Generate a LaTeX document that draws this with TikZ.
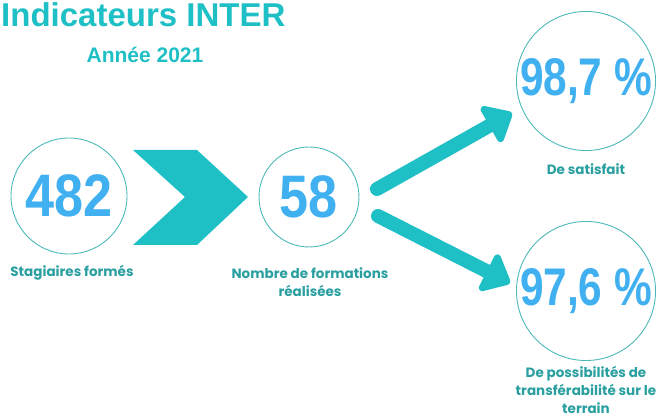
\documentclass[tikz,border=0pt]{standalone}
\usepackage{fontspec}
\setmainfont{Liberation Sans}
\newfontfamily\labelfont{Poppins}
\usetikzlibrary{arrows.meta}
\definecolor{turq}{HTML}{1EBFC5}
\definecolor{ringcol}{HTML}{4DB8B8}
\definecolor{numblue}{HTML}{40B0F0}
\definecolor{labteal}{HTML}{2A9FA0}
\tikzset{
  ring/.style={circle,draw=ringcol,line width=0.9pt,inner sep=0pt},
  bignum/.style={text=numblue,font=\bfseries\fontsize{60}{60}\selectfont},
  pctnum/.style={text=numblue,font=\bfseries\fontsize{53}{53}\selectfont},
  caption/.style={text=labteal,font=\labelfont\bfseries\fontsize{13.5}{18}\selectfont,align=center,inner sep=0pt},
  fatarrow/.style={turq,line width=14pt,line cap=round,-{Triangle[round,length=28pt,width=47pt]}}
}

\begin{document}
\begin{tikzpicture}[x=1pt,y=-1pt]
\useasboundingbox (0,0) rectangle (659,419);
\node[anchor=base west,inner sep=0pt,text=turq,font=\bfseries\fontsize{33}{33}\selectfont] (title) at (1,27) {Indicateurs INTER};
\node[anchor=base,inner sep=0pt,text=turq,font=\bfseries\fontsize{21}{21}\selectfont] (year) at (145,63) {Année 2021};
\node[ring,minimum size=116pt,bignum] (c482) at (69,196) {\scalebox{0.87}[1]{482}};
\node[ring,minimum size=100pt,bignum] (c58) at (309,197) {\scalebox{0.87}[1]{58}};
\node[ring,minimum size=134pt,pctnum] (c987) at (586,81) {\scalebox{0.8}[1]{98,7 \%}};
\node[ring,minimum size=134pt,pctnum] (c976) at (586,291) {\scalebox{0.8}[1]{97,6 \%}};
\fill[turq] (133,150) -- (197,150) -- (248,197) -- (197,245) -- (133,245) -- (185,197) -- cycle;
\node[caption,anchor=base] (l482) at (72,277) {Stagiaires formés};
\node[caption,anchor=base] (l58) at (310,297) {Nombre de formations\\réalisées};
\node[caption,anchor=base] (l987) at (586,175) {De satisfait};
\node[caption,anchor=base] (l976) at (586,414) {De possibilités de\\transférabilité sur le\\terrain};
\coordinate (up0) at (377,189);
\coordinate (up1) at (512,113);
\coordinate (dn0) at (378,216);
\coordinate (dn1) at (510,283);
\draw[fatarrow] (up0) -- (up1);
\draw[fatarrow] (dn0) -- (dn1);
\end{tikzpicture}
\end{document}
